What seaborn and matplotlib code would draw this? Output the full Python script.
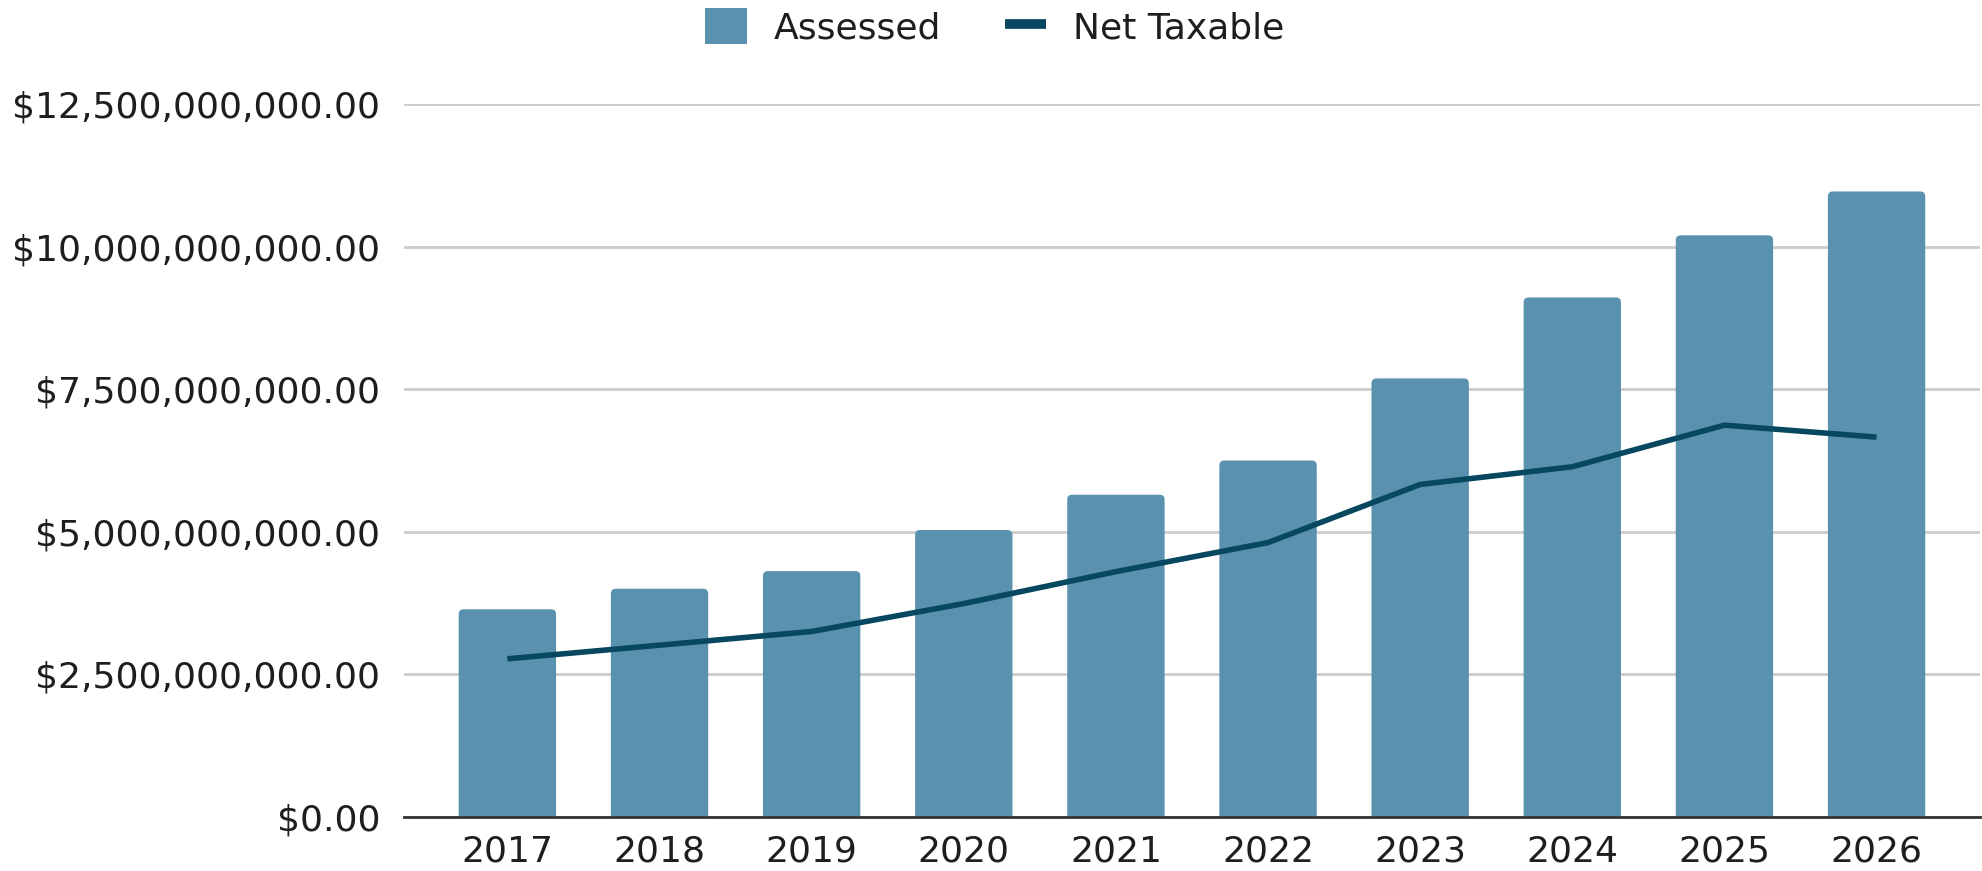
import matplotlib
matplotlib.use("Agg")
import matplotlib.pyplot as plt
from matplotlib.patches import Patch, FancyBboxPatch
from matplotlib.lines import Line2D
from matplotlib.ticker import FuncFormatter, MultipleLocator
import seaborn as sns
import pandas as pd

# Tax roll values by year (billions of dollars)
years = ["2017", "2018", "2019", "2020", "2021", "2022", "2023", "2024", "2025", "2026"]
assessed_bn = [3.64, 4.00, 4.31, 5.03, 5.65, 6.25, 7.69, 9.11, 10.20, 10.97]
net_taxable_bn = [2.77, 3.01, 3.25, 3.74, 4.30, 4.81, 5.83, 6.14, 6.87, 6.66]

BAR_COLOR = "#5A91AE"
LINE_COLOR = "#07475F"
TEXT_COLOR = "#1E1E1E"

df = pd.DataFrame({
    "Year": years,
    "Assessed": [v * 1e9 for v in assessed_bn],
    "Net Taxable": [v * 1e9 for v in net_taxable_bn],
})

sns.set_theme(style="white")
plt.rcParams["font.family"] = ["DejaVu Sans"]
plt.rcParams["text.color"] = TEXT_COLOR

fig = plt.figure(figsize=(19.82, 8.71), dpi=100)
ax = fig.add_axes([0.2038, 0.0623, 0.7952, 0.818])

sns.barplot(data=df, x="Year", y="Assessed", color=BAR_COLOR, width=0.64,
            saturation=1, ax=ax, zorder=2)
sns.pointplot(data=df, x="Year", y="Net Taxable", color=LINE_COLOR,
              marker="", errorbar=None, ax=ax, zorder=3)
for ln in ax.lines:
    ln.set_linewidth(4.0)
    ln.set_solid_capstyle("butt")
    ln.set_solid_joinstyle("round")

ax.set_xlim(-0.68, 9.68)
ax.set_ylim(0, 12.5e9)
ax.yaxis.set_major_locator(MultipleLocator(2.5e9))
ax.yaxis.set_major_formatter(FuncFormatter(lambda v, _: f"${v:,.2f}"))
ax.grid(axis="y", color="#CCCCCC", linewidth=2, zorder=0)
ax.set_axisbelow(True)
ax.set_xlabel("")
ax.set_ylabel("")

# Give the bar tops softly rounded corners; the bottom corners sit below
# the baseline and are clipped away by the axes.
fig.canvas.draw()
px_x = ax.transData.transform([(1, 0)])[0][0] - ax.transData.transform([(0, 0)])[0][0]
px_y = ax.transData.transform([(0, 1e9)])[0][1] - ax.transData.transform([(0, 0)])[0][1]
radius_px = 5.0
r_x = radius_px / px_x
aspect = (1e9 / px_y) / (1.0 / px_x)
r_y = r_x * aspect
for bar in list(ax.patches):
    x0, w, h = bar.get_x(), bar.get_width(), bar.get_height()
    rounded = FancyBboxPatch((x0, -r_y), w, h + r_y,
                             boxstyle=f"round,pad=0,rounding_size={r_x}",
                             mutation_aspect=aspect,
                             facecolor=BAR_COLOR, edgecolor="none",
                             zorder=2, clip_on=True)
    ax.add_patch(rounded)
    bar.set_visible(False)

for side in ("top", "right", "left"):
    ax.spines[side].set_visible(False)
ax.spines["bottom"].set_color("#333333")
ax.spines["bottom"].set_linewidth(2)
ax.spines["bottom"].set_zorder(4)

ax.tick_params(axis="both", length=0, labelsize=26, labelcolor=TEXT_COLOR)
ax.tick_params(axis="x", pad=13)
ax.tick_params(axis="y", pad=17)

handles = [
    Patch(facecolor=BAR_COLOR, edgecolor="none", label="Assessed"),
    Line2D([0], [0], color=LINE_COLOR, linewidth=7, solid_capstyle="butt",
           label="Net Taxable"),
]
fig.legend(handles=handles, loc="center", bbox_to_anchor=(0.502, 0.969),
           ncol=2, frameon=False, fontsize=26, handlelength=1.15,
           handleheight=1.15, handletextpad=0.75, columnspacing=1.75,
           borderpad=0.1)

fig.savefig("out.png", dpi=100)
